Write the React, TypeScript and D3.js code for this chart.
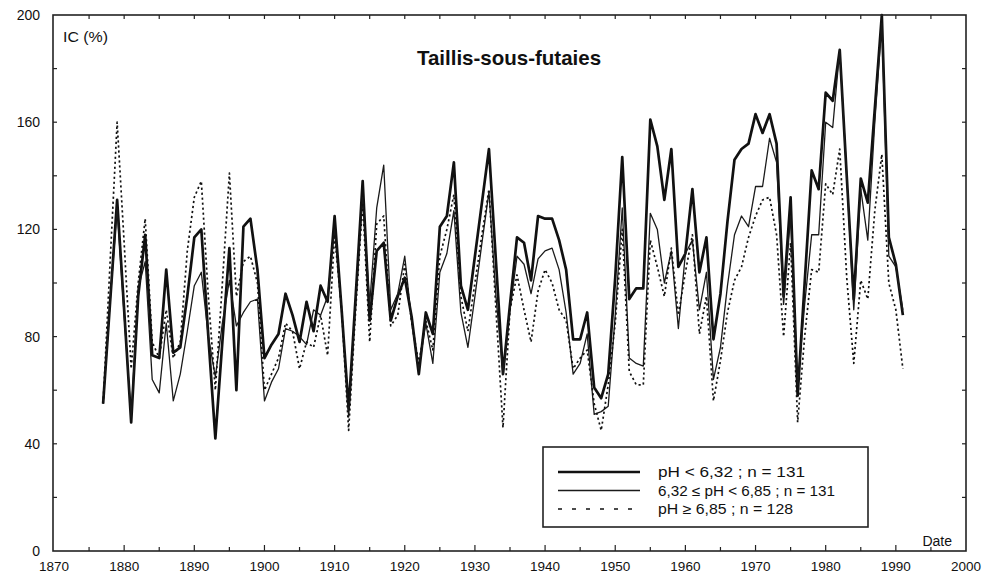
import React from "react";
import * as d3 from "d3";

const startYear = 1877;
const seriesLow = [
  55, 93, 131, 90, 48, 95, 118, 73, 72, 105, 74, 76, 95, 117, 120, 80, 42, 78, 113, 60, 121, 124, 105,
  72, 77, 81, 96, 88, 78, 93, 82, 99, 93, 125, 90, 53, 95, 138, 86, 112, 115, 86, 95, 102, 87, 66, 89, 81, 121,
  125, 145, 99, 90, 110, 130, 150, 108, 66, 92, 117, 115, 101, 125, 124, 124, 116, 105, 79, 79, 89, 61, 57, 66,
  102, 147, 94, 98, 98, 161, 151, 131, 150, 106, 111, 135, 104, 117, 79, 96, 123, 146, 150, 152, 163, 156, 163,
  152, 95, 132, 58, 100, 142, 135, 171, 168, 187, 140, 94, 139, 130, 165, 200, 117, 107, 88,
];
const seriesMid = [
  55, 93, 128, 88, 50, 98, 108, 64, 59, 85, 56, 66, 82, 99, 104, 80, 65, 85, 101, 84, 89, 93, 94,
  56, 63, 68, 83, 82, 80, 77, 90, 88, 95, 120, 90, 50, 92, 132, 92, 128, 144, 90, 96, 110, 85, 68, 85, 70, 104,
  111, 127, 89, 76, 95, 115, 134, 95, 66, 90, 110, 107, 96, 109, 112, 113, 105, 89, 66, 70, 81, 51, 52, 54,
  88, 128, 72, 70, 69, 126, 120, 100, 112, 83, 111, 116, 90, 104, 64, 76, 99, 118, 125, 121, 136, 136, 154,
  145, 92, 125, 62, 92, 118, 118, 160, 158, 187, 140, 90, 135, 116, 160, 197, 110, 106, 90,
];
const seriesHigh = [
  55, 108, 160, 115, 68, 100, 124, 78, 72, 90, 72, 78, 112, 132, 138, 95, 60, 100, 141, 95, 108, 110, 100,
  60, 66, 72, 85, 82, 68, 78, 76, 88, 73, 118, 90, 45, 90, 130, 78, 122, 125, 84, 88, 107, 85, 70, 86, 75, 110,
  120, 133, 95, 82, 100, 118, 135, 90, 46, 90, 103, 90, 78, 97, 105, 100, 90, 86, 68, 72, 75, 55, 45, 62,
  85, 120, 67, 62, 62, 116, 106, 95, 113, 88, 104, 118, 81, 95, 56, 71, 89, 101, 106, 117, 125, 131, 132,
  118, 80, 115, 48, 80, 105, 104, 137, 133, 150, 102, 70, 101, 94, 127, 148, 100, 90, 68,
];
const legendLabels = ["pH < 6,32 ; n = 131", "6,32 ≤ pH < 6,85 ; n = 131", "pH ≥ 6,85 ; n = 128"];
const xTickLabels = [1870, 1880, 1890, 1900, 1910, 1920, 1930, 1940, 1950, 1960, 1970, 1980, 1990, 2000];
const yTickLabels = [0, 40, 80, 120, 160, 200];
const title = "Taillis-sous-futaies";

export default function App() {
  const W = 985, H = 577;
  const left = 53, right = 966, top = 15, bottom = 551;
  const x = d3.scaleLinear().domain([1870, 2000]).range([54, 966]);
  const y = d3.scaleLinear().domain([0, 200]).range([bottom, top]);
  const mk = (arr: number[]) =>
    d3.line<number>().x((_, i) => x(startYear + i)).y((v) => y(v))(arr) as string;

  const minorX = d3.range(1875, 2000, 5);
  const yMinor = d3.range(20, 200, 20);
  const font = "Arial, 'Liberation Sans', sans-serif";
  const styles = [
    { w: 2.7, dash: "none", c: "#111" },
    { w: 1.3, dash: "none", c: "#1a1a1a" },
    { w: 1.7, dash: "2.2,2.8", c: "#111" },
  ];
  const series = [seriesLow, seriesMid, seriesHigh];
  const lg = { x0: 543, y0: 447, w: 325, h: 80 };
  const lgLen = [147, 177, 135];

  return (
    <svg width={W} height={H} style={{ position: "absolute", left: 0, top: 0, background: "#fff" }}
      fontFamily={font}>
      <rect x={0} y={0} width={W} height={H} fill="#fff" />
      {series.map((s, i) => (
        <path key={i} d={mk(s)} fill="none" stroke={styles[i].c} strokeWidth={styles[i].w}
          strokeDasharray={styles[i].dash} strokeLinejoin="round" />
      ))}
      <rect x={left} y={top} width={right - left} height={bottom - top} fill="none" stroke="#222" strokeWidth={1.6} />
      {minorX.map((t) => {
        const major = t % 10 === 0;
        return (
          <g key={t}>
            <line x1={x(t)} x2={x(t)} y1={bottom} y2={bottom - (major ? 6 : 4)} stroke="#222" strokeWidth={1.2} />
            <line x1={x(t)} x2={x(t)} y1={top} y2={top + 4} stroke="#222" strokeWidth={1.2} />
          </g>
        );
      })}
      {xTickLabels.map((t) => (
        <text key={t} x={x(t)} y={571} fontSize={13.5} textAnchor="middle" fill="#111">{t}</text>
      ))}
      {yMinor.map((t) => (
        <g key={t}>
          <line x1={left} x2={left + 4} y1={y(t)} y2={y(t)} stroke="#222" strokeWidth={1.2} />
          <line x1={right} x2={right - 4} y1={y(t)} y2={y(t)} stroke="#222" strokeWidth={1.2} />
        </g>
      ))}
      {yTickLabels.map((t) => (
        <text key={t} x={40} y={y(t) + 5} fontSize={14} textAnchor="end" fill="#111">{t}</text>
      ))}
      <text x={63} y={42} fontSize={14} fill="#111" textLength={45} lengthAdjust="spacingAndGlyphs">IC (%)</text>
      <text x={952} y={546} fontSize={14} textAnchor="end" fill="#111">Date</text>
      <text x={509} y={65} fontSize={20.5} fontWeight="bold" textAnchor="middle" fill="#111">{title}</text>
      <rect x={lg.x0} y={lg.y0} width={lg.w} height={lg.h} fill="#fff" stroke="#222" strokeWidth={1.6} />
      {legendLabels.map((l, i) => {
        const yy = 472 + i * 18.5;
        return (
          <g key={l}>
            <line x1={558} x2={640} y1={yy} y2={yy} stroke={styles[i].c}
              strokeWidth={i === 0 ? 2.4 : i === 1 ? 1.3 : 1.6}
              strokeDasharray={i === 2 ? "4,10" : "none"} />
            <text x={658} y={yy + 5} fontSize={14} fill="#111" textLength={lgLen[i]}
              lengthAdjust="spacingAndGlyphs">{l}</text>
          </g>
        );
      })}
    </svg>
  );
}
